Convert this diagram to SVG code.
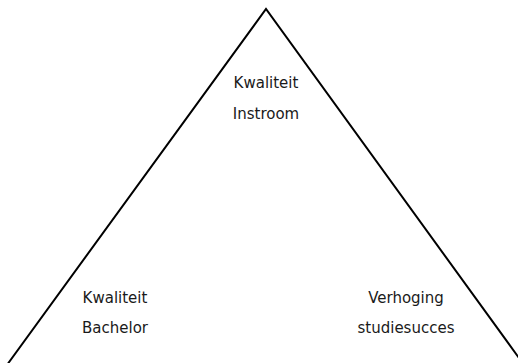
<svg xmlns="http://www.w3.org/2000/svg" width="518" height="363" viewBox="0 0 518 363">
<style>
.lbl{font-family:"DejaVu Sans","Liberation Sans",sans-serif;font-size:15px;fill:#1a1a1a;text-anchor:middle}
.edge{fill:none;stroke:#000;stroke-width:2;stroke-linejoin:miter}
</style>
<rect width="518" height="363" fill="#fff"/>
<g id="connectors">
<polyline class="edge" points="8,363.5 266,9 523,363.5"/>
</g>
<g id="node-top">
<text class="lbl" x="266" y="88">Kwaliteit</text>
<text class="lbl" x="266" y="119">Instroom</text>
</g>
<g id="node-left">
<text class="lbl" x="115" y="303">Kwaliteit</text>
<text class="lbl" x="115" y="333">Bachelor</text>
</g>
<g id="node-right">
<text class="lbl" x="406" y="303">Verhoging</text>
<text class="lbl" x="406" y="333">studiesucces</text>
</g>
</svg>
